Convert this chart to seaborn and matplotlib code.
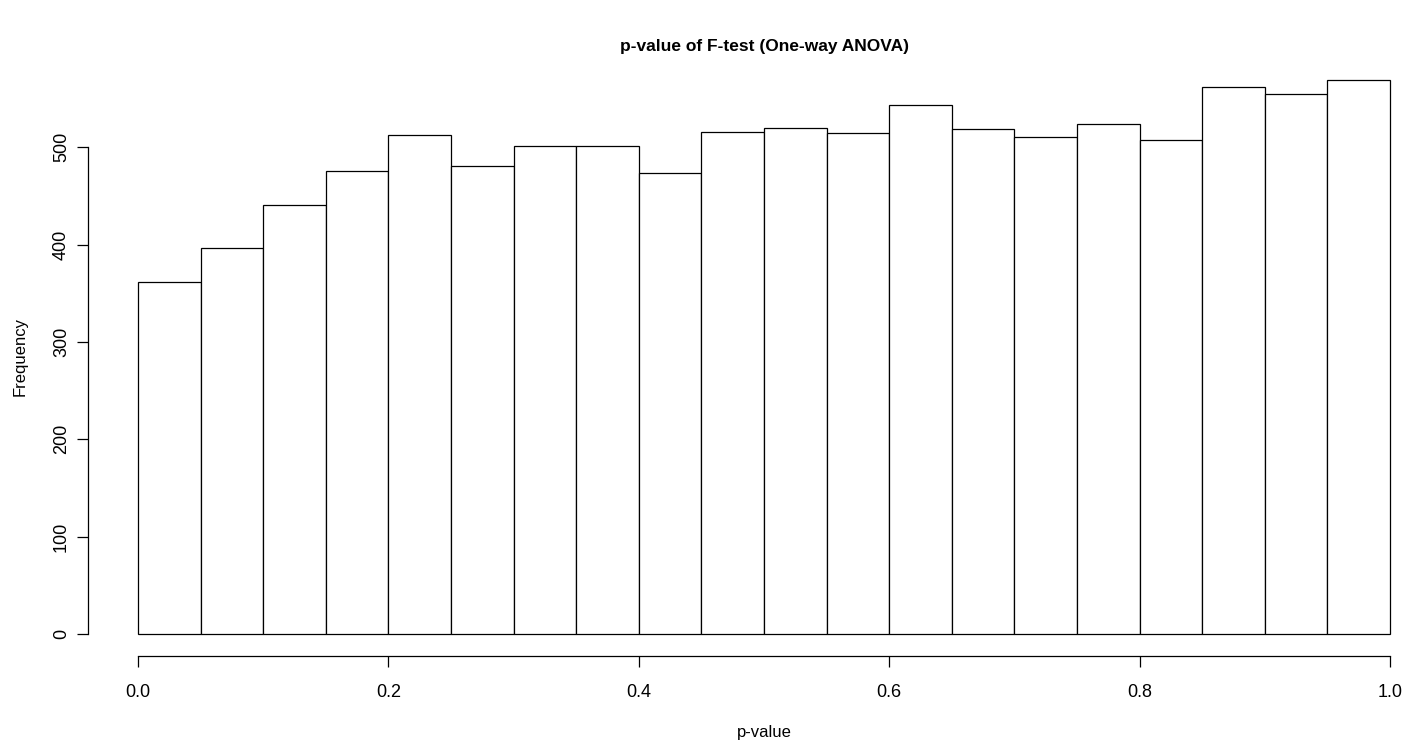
import numpy as np
import pandas as pd
import matplotlib
matplotlib.use("Agg")
import matplotlib.pyplot as plt
import seaborn as sns

# Data (bin width 0.05 on [0, 1])
bin_edges = [0.0, 0.05, 0.10, 0.15, 0.20, 0.25, 0.30, 0.35, 0.40, 0.45, 0.50,
             0.55, 0.60, 0.65, 0.70, 0.75, 0.80, 0.85, 0.90, 0.95, 1.0]
counts = [362, 396, 441, 476, 513, 481, 501, 501, 474, 516,
          520, 515, 543, 519, 511, 524, 507, 562, 555, 569]
x_ticks = [0.0, 0.2, 0.4, 0.6, 0.8, 1.0]
x_tick_labels = ["0.0", "0.2", "0.4", "0.6", "0.8", "1.0"]
y_ticks = [0, 100, 200, 300, 400, 500]
title = "p-value of F-test (One-way ANOVA)"
x_label = "p-value"
y_label = "Frequency"

sns.set_style("white")
plt.rcParams['font.family'] = ['Liberation Sans', 'DejaVu Sans']
plt.rcParams['text.color'] = 'black'

W, H = 1408, 741
fig = plt.figure(figsize=(W / 100, H / 100), dpi=100)
# plot region in pixels: left 88, right 1440 (beyond the image, as in R output), top 58, bottom 656
ax = fig.add_axes([88 / W, (H - 656) / H, (1440 - 88) / W, (656 - 58) / H])

centers = [(a + b) / 2 for a, b in zip(bin_edges[:-1], bin_edges[1:])]
df = pd.DataFrame({"p": centers, "n": counts})
sns.histplot(data=df, x="p", weights="n", bins=bin_edges, ax=ax,
             color="white", edgecolor="black", linewidth=0.9, alpha=1.0)

ymax = max(counts)
ax.set_xlim(-0.04, 1.04)
ax.set_ylim(-0.04 * ymax, 1.04 * ymax)

for s in ["top", "right"]:
    ax.spines[s].set_visible(False)
ax.spines["bottom"].set_bounds(0, 1)
ax.spines["left"].set_bounds(0, 500)
for s in ["bottom", "left"]:
    ax.spines[s].set_color("black")
    ax.spines[s].set_linewidth(0.9)

ax.set_xticks(x_ticks)
ax.set_xticklabels(x_tick_labels)
ax.set_yticks(y_ticks)
ax.set_yticklabels([str(v) for v in y_ticks], rotation=90, va="center")
ax.tick_params(axis="x", direction="out", length=8, width=0.9, color="black",
               pad=12, labelsize=13, labelcolor="black", bottom=True)
ax.tick_params(axis="y", direction="out", length=8, width=0.9, color="black",
               pad=5, labelsize=13, labelcolor="black", left=True)
ax.set_xlabel("")
ax.set_ylabel("")
ax.grid(False)

fig.text(764 / W, 1 - 47 / H, title, ha="center", va="center",
         fontsize=12.5, fontweight="bold", color="black")
fig.text(764 / W, 1 - 733 / H, x_label, ha="center", va="center",
         fontsize=12, color="black")
fig.text(20 / W, 1 - ((58 + 656) / 2) / H, y_label, ha="center", va="center",
         fontsize=12, rotation=90, color="black")

fig.savefig("out.png", dpi=100, facecolor="white")
